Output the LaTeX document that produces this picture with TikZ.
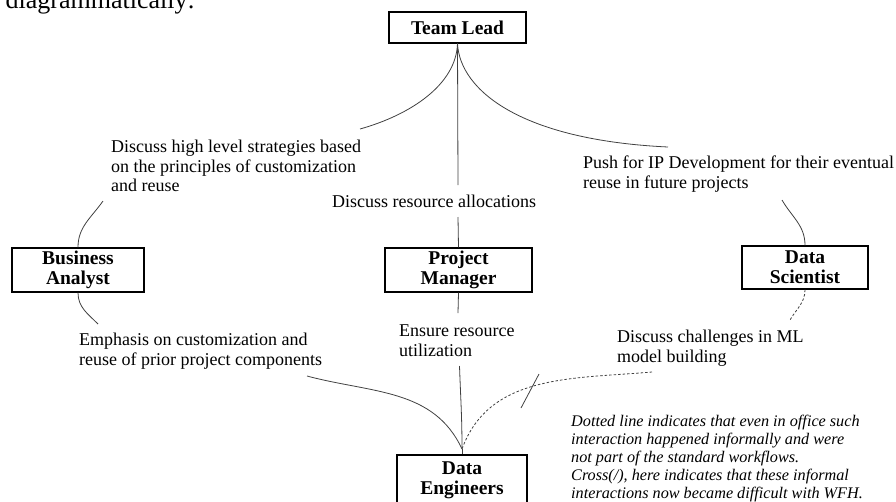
\documentclass[tikz,border=0pt]{standalone}
\usepackage{fontspec}
\setmainfont{Liberation Serif}

\begin{document}
\begin{tikzpicture}[x=1pt, y=1pt,
  role/.style={draw, line width=1.4pt, align=center, inner sep=0pt,
    font=\fontsize{19.5}{20}\selectfont\bfseries},
  says/.style={anchor=base west, align=left, inner sep=0pt,
    font=\fontsize{18}{19.5}\selectfont},
  link/.style={draw=black!75, line width=0.8pt},
  informal/.style={link, dash pattern=on 2.5pt off 2pt}]

\useasboundingbox (0,0) rectangle (896,-501);
\clip (0,0) rectangle (896,-501);

% line of page text above the figure (cut off)
\node [anchor=base east, inner sep=0pt, font=\fontsize{26}{30}\selectfont] (caption) at (195,-8) {diagrammatically:};

% the roles
\node [role, minimum width=137, minimum height=31] (lead) at (457.5,-27.5) {Team Lead};
\node [role, minimum width=132, minimum height=44] (analyst) at (78,-270) {Business\\Analyst};
\node [role, minimum width=147, minimum height=44] (manager) at (458.5,-270) {Project\\Manager};
\node [role, minimum width=126, minimum height=43] (scientist) at (805,-267.5) {Data\\Scientist};
\node [role, minimum width=130, minimum height=50] (engineers) at (462,-480) {Data\\Engineers};

% what they talk about (placed at the baseline of the last line)
\node [says] (strategy) at (111,-191.5) {Discuss high level strategies based\\on the principles of customization\\and reuse};
\node [says] (allocation) at (332,-207.5) {Discuss resource allocations};
\node [says] (ipdev) at (583,-188) {Push for IP Development for their eventual\\reuse in future projects};
\node [says] (emphasis) at (79,-365) {Emphasis on customization and\\reuse of prior project components};
\node [says] (utilization) at (399,-356) {Ensure resource\\utilization};
\node [says] (challenges) at (617,-362) {Discuss challenges in ML\\model building};

% note
\node [anchor=base west, align=left, inner sep=0pt, font=\fontsize{16.2}{18}\selectfont\itshape] (note) at (571,-498)
  {Dotted line indicates that even in office such\\interaction happened informally and were\\not part of the standard workflows.\\Cross(/), here indicates that these informal\\interactions now became difficult with WFH.};

% free ends of the connectors
\coordinate (strategy top) at (360,-129);
\coordinate (strategy foot) at (103,-201);
\coordinate (allocation top) at (458,-185);
\coordinate (allocation foot) at (458,-217);
\coordinate (ipdev top) at (668,-147);
\coordinate (ipdev foot) at (782,-200);
\coordinate (emphasis top) at (98,-324);
\coordinate (emphasis foot) at (307,-376);
\coordinate (utilization top) at (458,-313);
\coordinate (utilization foot) at (459.5,-366);
\coordinate (challenges top) at (790,-320);
\coordinate (challenges foot) at (652,-372);
\coordinate (join) at (462,-449);

% team lead
\draw [link] (lead.south) .. controls (456,-85) and (410,-115) .. (strategy top);
\draw [link] (lead.south) -- (allocation top);
\draw [link] (lead.south) .. controls (460,-90) and (520,-140) .. (ipdev top);

% down to the three roles
\draw [link] (strategy foot) to [out=-125, in=90] (analyst.north);
\draw [link] (allocation foot) -- (manager.north);
\draw [link] (ipdev foot) to [out=-60, in=90] (scientist.north);

% from the roles
\draw [link] (analyst.south) to [out=-90, in=135] (emphasis top);
\draw [link] (manager.south) -- (utilization top);
\draw [informal] (scientist.south) to [out=-90, in=60] (challenges top);

% into the data engineers
\draw [link] (emphasis foot) to [out=-15, in=115] (join);
\draw [link] (utilization foot) to [out=-88, in=90] (join);
\draw [informal] (challenges foot) to [out=185, in=70] (join);
\draw [link] (join) -- (engineers.north);

% cross on the informal line
\coordinate (cross a) at (539,-374);
\coordinate (cross b) at (521,-408);
\draw [link] (cross a) -- (cross b);

\end{tikzpicture}
\end{document}
